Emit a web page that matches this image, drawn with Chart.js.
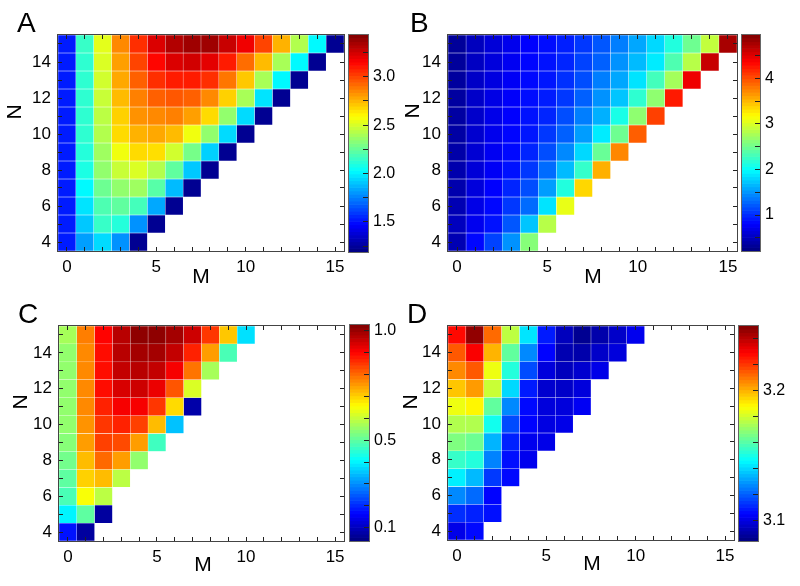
<!DOCTYPE html>
<html>
<head>
<meta charset="utf-8">
<script src="https://cdn.jsdelivr.net/npm/chart.js@4.4.0/dist/chart.umd.min.js"></script>
<style>
    body { margin: 0; background: #fff; }
    #figure { position: relative; width: 800px; height: 586px; overflow: hidden;
              font-family: Arial, "Liberation Sans", sans-serif; color: #000; }
    #figure canvas { position: absolute; }
    .panel-letter { position: absolute; font-size: 28px; line-height: 1; }
    .axis-title { position: absolute; font-size: 21px; line-height: 1; white-space: nowrap;
                  transform: translate(-50%, -50%); }
    .axis-title.rot { transform: translate(-50%, -50%) rotate(-90deg); }
</style>
</head>
<body>
<div id="figure"></div>
<script>
// Axes (same grid for all four panels)
const M_TICKS = [0, 1, 2, 3, 4, 5, 6, 7, 8, 9, 10, 11, 12, 13, 14, 15];
const M_LABELS = [0, 5, 10, 15];
const N_ROWS = [4, 5, 6, 7, 8, 9, 10, 11, 12, 13, 14, 15];
const N_LABELS = [4, 6, 8, 10, 12, 14];

// Panel A values, one row per N (M = 0..N)
const VALUES_A = [
    [1.53, 1.82, 1.95, 1.79, 1.23],
    [1.53, 1.91, 2.15, 2.11, 1.79, 1.23],
    [1.53, 1.97, 2.20, 2.24, 2.18, 1.84, 1.23],
    [1.53, 2.02, 2.27, 2.35, 2.38, 2.22, 1.88, 1.23],
    [1.53, 2.09, 2.35, 2.47, 2.51, 2.42, 2.24, 1.91, 1.23],
    [1.53, 2.11, 2.38, 2.56, 2.67, 2.66, 2.49, 2.29, 1.93, 1.23],
    [1.53, 2.13, 2.42, 2.67, 2.76, 2.78, 2.74, 2.56, 2.35, 1.95, 1.23],
    [1.53, 2.13, 2.44, 2.69, 2.83, 2.85, 2.87, 2.80, 2.67, 2.35, 1.95, 1.23],
    [1.53, 2.13, 2.47, 2.74, 2.87, 2.94, 2.96, 2.94, 2.85, 2.69, 2.40, 1.97, 1.23],
    [1.53, 2.13, 2.49, 2.78, 2.94, 3.05, 3.09, 3.09, 3.05, 2.89, 2.71, 2.40, 2.02, 1.23],
    [1.53, 2.13, 2.51, 2.80, 3.00, 3.14, 3.23, 3.25, 3.21, 3.09, 2.91, 2.74, 2.40, 2.02, 1.23],
    [1.53, 2.15, 2.53, 2.85, 3.05, 3.23, 3.32, 3.36, 3.36, 3.27, 3.18, 3.00, 2.76, 2.42, 2.02, 1.23]
];

// Panel B values
const VALUES_B = [
    [0.45, 0.83, 1.11, 1.48, 2.61],
    [0.50, 0.73, 0.88, 1.20, 1.72, 2.84],
    [0.45, 0.69, 0.83, 1.06, 1.30, 1.86, 3.07],
    [0.42, 0.64, 0.80, 0.97, 1.16, 1.53, 2.14, 3.36],
    [0.42, 0.62, 0.76, 0.88, 1.06, 1.30, 1.67, 2.23, 3.54],
    [0.40, 0.60, 0.74, 0.84, 0.97, 1.16, 1.44, 1.81, 2.47, 3.73],
    [0.38, 0.58, 0.72, 0.82, 0.90, 1.06, 1.25, 1.53, 1.90, 2.50, 3.92],
    [0.37, 0.56, 0.70, 0.80, 0.88, 0.97, 1.16, 1.39, 1.62, 2.10, 2.65, 4.06],
    [0.36, 0.55, 0.68, 0.78, 0.86, 0.93, 1.06, 1.25, 1.48, 1.72, 2.20, 2.65, 4.24],
    [0.35, 0.54, 0.66, 0.76, 0.84, 0.90, 1.02, 1.16, 1.39, 1.58, 1.86, 2.30, 2.75, 4.43],
    [0.34, 0.52, 0.64, 0.74, 0.82, 0.88, 0.97, 1.11, 1.25, 1.48, 1.67, 1.90, 2.35, 2.84, 4.62],
    [0.33, 0.50, 0.62, 0.72, 0.80, 0.86, 0.94, 1.06, 1.20, 1.39, 1.58, 1.81, 2.14, 2.50, 2.89, 4.76]
];

// Panel C values
const VALUES_C = [
    [0.18, 0.07],
    [0.40, 0.50, 0.07],
    [0.48, 0.65, 0.59],
    [0.50, 0.70, 0.72, 0.59],
    [0.52, 0.72, 0.80, 0.75, 0.55],
    [0.54, 0.75, 0.84, 0.83, 0.75, 0.47],
    [0.55, 0.76, 0.85, 0.87, 0.84, 0.72, 0.35],
    [0.55, 0.77, 0.87, 0.91, 0.91, 0.85, 0.69, 0.08],
    [0.55, 0.77, 0.89, 0.94, 0.95, 0.92, 0.82, 0.62],
    [0.55, 0.77, 0.89, 0.96, 0.97, 0.96, 0.91, 0.79, 0.57],
    [0.55, 0.77, 0.89, 0.97, 0.99, 0.99, 0.96, 0.87, 0.75, 0.48],
    [0.57, 0.78, 0.90, 0.97, 1.01, 1.01, 0.99, 0.95, 0.85, 0.71, 0.38]
];

// Panel D values
const VALUES_D = [
    [3.101, 3.106],
    [3.112, 3.110, 3.107],
    [3.127, 3.122, 3.105],
    [3.144, 3.135, 3.114, 3.106],
    [3.155, 3.152, 3.126, 3.107, 3.102],
    [3.167, 3.164, 3.134, 3.110, 3.102, 3.101],
    [3.175, 3.175, 3.149, 3.117, 3.105, 3.100, 3.101],
    [3.185, 3.189, 3.162, 3.127, 3.106, 3.099, 3.099, 3.103],
    [3.197, 3.204, 3.179, 3.140, 3.109, 3.097, 3.096, 3.099],
    [3.207, 3.215, 3.185, 3.152, 3.117, 3.099, 3.094, 3.097, 3.101],
    [3.215, 3.230, 3.200, 3.162, 3.127, 3.105, 3.092, 3.091, 3.096, 3.099],
    [3.228, 3.247, 3.212, 3.177, 3.142, 3.109, 3.094, 3.087, 3.091, 3.096, 3.102]
];

// Colour ranges and colour bar ticks
const RANGE_A = [1.19, 3.43];
const RANGE_B = [0.21, 4.95];
const RANGE_C = [0.04, 1.025];
const RANGE_D = [3.084, 3.25];
const CB_TICKS_A = [1.25, 1.5, 1.75, 2.0, 2.25, 2.5, 2.75, 3.0, 3.25];
const CB_LABELS_A = ['1.5', '2.0', '2.5', '3.0'];
const CB_TICKS_B = [0.5, 1, 1.5, 2, 2.5, 3, 3.5, 4, 4.5];
const CB_LABELS_B = ['1', '2', '3', '4'];
const CB_TICKS_C = [0.1, 0.2, 0.3, 0.4, 0.5, 0.6, 0.7, 0.8, 0.9, 1.0];
const CB_LABELS_C = ['0.1', '0.5', '1.0'];
const CB_TICKS_D = [3.10, 3.12, 3.14, 3.16, 3.18, 3.20, 3.22, 3.24];
const CB_LABELS_D = ['3.1', '3.2'];

// Style
const FONT_FAMILY = 'Arial, "Liberation Sans", sans-serif';
const CB_LEVELS = 64;
const CELL_EDGE = 'rgba(255, 255, 255, 0.3)';
const FRAME_COLOR = '#444';
const TICK_COLOR = '#222';

// Layout of each panel (pixels on the page)
const PANELS = [
    { letter: 'A', values: VALUES_A, range: RANGE_A, cbTicks: CB_TICKS_A, cbLabels: CB_LABELS_A,
      canvas: { left: 0, top: 0, width: 360, height: 293 }, plot: { left: 58, top: 35, right: 344, bottom: 251 },
      bar: { left: 340, top: 0, width: 60, height: 293 }, barArea: { left: 349, top: 35, right: 368, bottom: 252 },
      letterPos: [17, 9], nPos: [13, 112], mPos: [201, 275] },
    { letter: 'B', values: VALUES_B, range: RANGE_B, cbTicks: CB_TICKS_B, cbLabels: CB_LABELS_B,
      canvas: { left: 400, top: 0, width: 352, height: 293 }, plot: { left: 448, top: 35, right: 737, bottom: 251 },
      bar: { left: 735, top: 0, width: 65, height: 293 }, barArea: { left: 742, top: 35, right: 760, bottom: 251 },
      letterPos: [410, 9], nPos: [411, 111], mPos: [593, 275] },
    { letter: 'C', values: VALUES_C, range: RANGE_C, cbTicks: CB_TICKS_C, cbLabels: CB_LABELS_C,
      canvas: { left: 0, top: 293, width: 360, height: 293 }, plot: { left: 59, top: 326, right: 344, bottom: 541 },
      bar: { left: 340, top: 293, width: 60, height: 293 }, barArea: { left: 350, top: 325, right: 369, bottom: 541 },
      letterPos: [18, 300], nPos: [19, 402], mPos: [203, 563] },
    { letter: 'D', values: VALUES_D, range: RANGE_D, cbTicks: CB_TICKS_D, cbLabels: CB_LABELS_D,
      canvas: { left: 400, top: 293, width: 350, height: 293 }, plot: { left: 448, top: 326, right: 734, bottom: 540 },
      bar: { left: 732, top: 293, width: 68, height: 293 }, barArea: { left: 739, top: 326, right: 758, bottom: 541 },
      letterPos: [407, 300], nPos: [409, 402], mPos: [592, 562] }
];

// Jet colour map, t in [0, 1]
function jet(t) {
    t = Math.min(1, Math.max(0, t));
    const c = x => Math.round(255 * Math.min(1, Math.max(0, x)));
    const r = c(1.5 - Math.abs(4 * t - 3));
    const g = c(1.5 - Math.abs(4 * t - 2));
    const b = c(1.5 - Math.abs(4 * t - 1));
    return `rgb(${r}, ${g}, ${b})`;
}

function colorFor(v, range) {
    return jet((v - range[0]) / (range[1] - range[0]));
}

function cbLabel(v, labels) {
    const hit = labels.find(s => Math.abs(parseFloat(s) - v) < 1e-9);
    return hit || '';
}

// Draws a thin box round the plot area
const framePlugin = {
    id: 'frame',
    afterDraw(chart, args, opts) {
        const { ctx, chartArea: a } = chart;
        ctx.save();
        ctx.strokeStyle = opts.color || FRAME_COLOR;
        ctx.lineWidth = 1;
        ctx.strokeRect(Math.round(a.left) - 0.5, Math.round(a.top) - 0.5,
            Math.round(a.right - a.left) + 1, Math.round(a.bottom - a.top) + 1);
        ctx.restore();
    }
};
Chart.register(framePlugin);
Chart.defaults.font.family = FONT_FAMILY;
Chart.defaults.color = '#000';

function addCanvas(box) {
    const canvas = document.createElement('canvas');
    canvas.width = box.width;
    canvas.height = box.height;
    canvas.style.left = box.left + 'px';
    canvas.style.top = box.top + 'px';
    document.getElementById('figure').appendChild(canvas);
    return canvas;
}

function addText(cls, text, x, y) {
    const div = document.createElement('div');
    div.className = cls;
    div.textContent = text;
    div.style.left = x + 'px';
    div.style.top = y + 'px';
    document.getElementById('figure').appendChild(div);
}

// Heat map: floating bars on linear axes, one cell per (M, N)
function makeHeatmap(p) {
    const c = p.canvas, a = p.plot;
    const points = [];
    p.values.forEach((row, i) => {
        const n = N_ROWS[i];
        row.forEach((v, m) => points.push({ x: M_TICKS[m], y: [n - 0.5, n + 0.5], v: v }));
    });

    const tickGrid = { display: true, drawOnChartArea: false, drawTicks: true, tickLength: -4,
        tickColor: TICK_COLOR, tickWidth: 1, offset: false, z: 1 };
    const setM = s => { s.ticks = M_TICKS.map(v => ({ value: v })); };
    const setN = s => { s.ticks = N_ROWS.map(v => ({ value: v })); };
    const tickFont = { size: 17 };

    new Chart(addCanvas(c), {
        type: 'bar',
        data: {
            datasets: [{
                data: points,
                backgroundColor: ctx => ctx.raw ? colorFor(ctx.raw.v, p.range) : 'transparent',
                borderColor: CELL_EDGE,
                borderWidth: 0.5,
                borderSkipped: false,
                barPercentage: 1,
                categoryPercentage: 1
            }]
        },
        options: {
            responsive: false,
            animation: false,
            devicePixelRatio: 1,
            events: [],
            layout: { padding: 0 },
            plugins: { legend: { display: false }, tooltip: { enabled: false }, frame: { color: FRAME_COLOR } },
            scales: {
                x: {
                    type: 'linear', position: 'bottom', min: -0.5, max: 15.5, offset: false,
                    grid: tickGrid, border: { display: false },
                    ticks: { autoSkip: false, maxRotation: 0, padding: 10, font: tickFont,
                        callback: v => M_LABELS.includes(v) ? String(v) : '' },
                    afterBuildTicks: setM,
                    afterFit: s => { s.height = c.top + c.height - a.bottom; }
                },
                x2: {
                    type: 'linear', position: 'top', min: -0.5, max: 15.5, offset: false,
                    grid: tickGrid, border: { display: false },
                    ticks: { display: false },
                    afterBuildTicks: setM,
                    afterFit: s => { s.height = a.top - c.top; }
                },
                y: {
                    type: 'linear', position: 'left', min: 3.5, max: 15.5, beginAtZero: false,
                    grid: tickGrid, border: { display: false },
                    ticks: { autoSkip: false, padding: 11, font: tickFont, stepSize: 1,
                        callback: v => N_LABELS.includes(v) ? String(v) : '' },
                    afterBuildTicks: setN,
                    afterFit: s => { s.width = a.left - c.left; }
                },
                y2: {
                    type: 'linear', position: 'right', min: 3.5, max: 15.5, beginAtZero: false,
                    grid: tickGrid, border: { display: false },
                    ticks: { display: false, stepSize: 1 },
                    afterBuildTicks: setN,
                    afterFit: s => { s.width = c.left + c.width - a.right; }
                }
            }
        }
    });
}

// Colour bar: a stack of thin floating bars coloured by the colour map
function makeColorbar(p) {
    const c = p.bar, a = p.barArea;
    const [lo, hi] = p.range;
    const step = (hi - lo) / CB_LEVELS;
    const segs = [];
    for (let k = 0; k < CB_LEVELS; k++) {
        segs.push({ x: 'cb', y: [lo + k * step, lo + (k + 1) * step], t: (k + 0.5) / CB_LEVELS });
    }

    new Chart(addCanvas(c), {
        type: 'bar',
        data: {
            labels: ['cb'],
            datasets: [{
                data: segs,
                backgroundColor: ctx => ctx.raw ? jet(ctx.raw.t) : 'transparent',
                borderWidth: 0,
                barPercentage: 1,
                categoryPercentage: 1
            }]
        },
        options: {
            responsive: false,
            animation: false,
            devicePixelRatio: 1,
            events: [],
            layout: { padding: { left: a.left - c.left, top: a.top - c.top, right: 0, bottom: c.top + c.height - a.bottom } },
            plugins: { legend: { display: false }, tooltip: { enabled: false }, frame: { color: '#666' } },
            scales: {
                x: { display: false },
                y: {
                    type: 'linear', position: 'right', min: lo, max: hi, beginAtZero: false,
                    grid: { display: true, drawOnChartArea: false, drawTicks: true, tickLength: -5,
                        tickColor: TICK_COLOR, tickWidth: 1, z: 1 },
                    border: { display: false },
                    ticks: { autoSkip: false, padding: 10, font: { size: 16 },
                        callback: v => cbLabel(v, p.cbLabels) },
                    afterBuildTicks: s => { s.ticks = p.cbTicks.map(v => ({ value: v })); },
                    afterFit: s => { s.width = c.left + c.width - a.right; }
                }
            }
        }
    });
}

document.addEventListener('DOMContentLoaded', () => {
    PANELS.forEach(makeHeatmap);
    PANELS.forEach(makeColorbar);
    PANELS.forEach(p => {
        addText('panel-letter', p.letter, p.letterPos[0], p.letterPos[1]);
        addText('axis-title rot', 'N', p.nPos[0], p.nPos[1]);
        addText('axis-title', 'M', p.mPos[0], p.mPos[1]);
    });
});
</script>
</body>
</html>
